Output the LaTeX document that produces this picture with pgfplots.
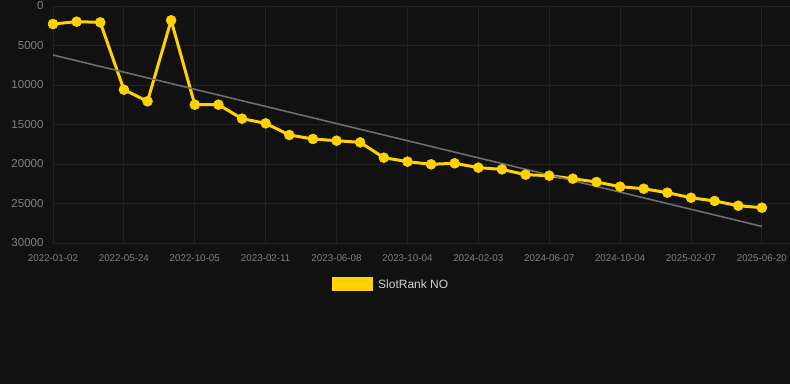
\documentclass[border=0pt]{standalone}
\usepackage{pgfplots}
\pgfplotsset{compat=1.18}
\usepackage{fontspec}
\setmainfont{Liberation Sans}
\definecolor{bg}{RGB}{17,17,17}
\definecolor{gridc}{RGB}{33,33,33}
\definecolor{tickc}{RGB}{128,128,128}
\definecolor{gold}{RGB}{255,210,0}
\definecolor{trend}{RGB}{110,110,110}
\definecolor{legc}{RGB}{210,210,210}
\begin{document}
\begin{tikzpicture}
\fill[bg] (0pt,0pt) rectangle (790pt,384pt);
\useasboundingbox (0pt,0pt) rectangle (790pt,384pt);
\begin{axis}[
  at={(53pt,141pt)}, anchor=south west,
  scale only axis, width=737pt, height=237pt,
  xmin=0, xmax=31.19, ymin=0, ymax=30000, y dir=reverse,
  axis line style={draw=none},
  grid=major, grid style={gridc, line width=0.8pt},
  major tick length=0pt,
  xtick={0,3,...,30},
  xticklabels={2022-01-02,2022-05-24,2022-10-05,2023-02-11,2023-06-08,2023-10-04,2024-02-03,2024-06-07,2024-10-04,2025-02-07,2025-06-20},
  ytick={0,5000,...,30000},
  scaled y ticks=false,
  yticklabel style={/pgf/number format/assume math mode=true, /pgf/number format/1000 sep={}, font=\fontsize{11.5}{13}\selectfont, text=tickc, xshift=-6pt},
  xticklabel style={font=\fontsize{9.8}{12}\selectfont, text=tickc, yshift=-8pt},
  legend style={at={(0.3786,-0.175)}, anchor=west, draw=none, fill=none, text=legc, font=\fontsize{12}{14}\selectfont, inner sep=0pt},
  legend image code/.code={\fill[gold] (0pt,-5.5pt) rectangle (38pt,5.5pt);},
  legend cell align=left,
  clip=false,
]
\addplot[gold, line width=3pt, mark=*, mark size=5pt, mark options={fill=gold, draw=gold, line width=0.5pt}] coordinates {
(0,2280) (1,1980) (2,2070) (3,10590) (4,12060) (5,1810) (6,12490) (7,12490) (8,14260)
(9,14850) (10,16330) (11,16830) (12,17050) (13,17260) (14,19200) (15,19700) (16,20040)
(17,19910) (18,20460) (19,20680) (20,21350) (21,21480) (22,21860) (23,22280) (24,22870)
(25,23130) (26,23630) (27,24270) (28,24680) (29,25280) (30,25530)
};
\addlegendentry{\hspace{3pt}SlotRank NO}
\addplot[trend, line width=1.6pt, forget plot] coordinates {(0,6200) (30,27900)};
\end{axis}
\end{tikzpicture}
\end{document}
